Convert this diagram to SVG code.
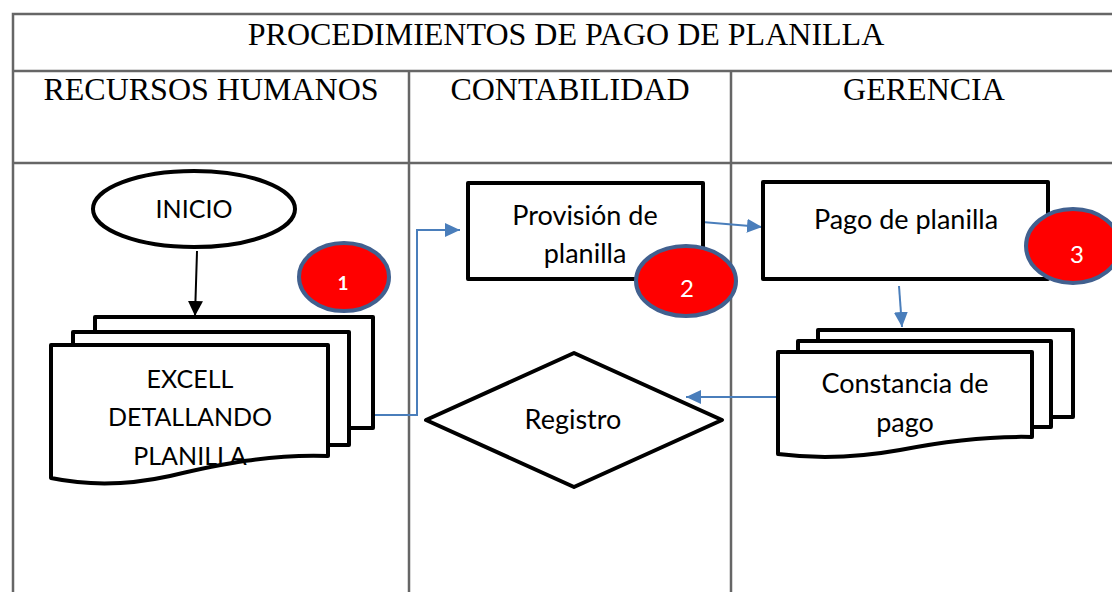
<svg xmlns="http://www.w3.org/2000/svg" width="1112" height="592" viewBox="0 0 1112 592">
<style>
.grid{stroke:#666;stroke-width:2.5;fill:none}
.hdr{font-family:"Liberation Serif",serif;font-size:32px;fill:#000;text-anchor:middle}
.shape{fill:#fff;stroke:#000;stroke-width:4;stroke-linejoin:round}
.lbl{font-family:Lato,"Liberation Sans",sans-serif;font-size:27px;fill:#000;text-anchor:middle}
.lbs{font-size:25px}
.badge{fill:#FF0000;stroke:#41608F;stroke-width:4}
.btxt{font-family:Lato,"Liberation Sans",sans-serif;fill:#fff;text-anchor:middle}
.conn{stroke:#4A7EBB;stroke-width:2;fill:none}
</style>
<defs>
<marker id="ablue" markerWidth="15" markerHeight="14" refX="15" refY="7" orient="auto" markerUnits="userSpaceOnUse" viewBox="0 0 15 14">
<path d="M0,0 L15,7 L0,14 z" fill="#4A7EBB"/>
</marker>
<marker id="ablk" markerWidth="15" markerHeight="15" refX="15" refY="7.5" orient="auto" markerUnits="userSpaceOnUse" viewBox="0 0 15 15">
<path d="M0,0 L15,7.5 L0,15 z" fill="#000"/>
</marker>
</defs>
<rect width="1112" height="592" fill="#fff"/>
<g id="table">
<path class="grid" d="M13,592 V14 H1114 M13,71 H1114 M13,163 H1114 M409,71 V592 M731,71 V592"/>
<text class="hdr" x="566" y="45">PROCEDIMIENTOS DE PAGO DE PLANILLA</text>
<text class="hdr" x="211" y="100">RECURSOS HUMANOS</text>
<text class="hdr" x="570" y="100">CONTABILIDAD</text>
<text class="hdr" x="924" y="100">GERENCIA</text>
</g>
<g id="connectors">
<line x1="197" y1="251" x2="195" y2="316" stroke="#000" stroke-width="2" marker-end="url(#ablk)"/>
<path class="conn" d="M373,415 H417 V230 H460" marker-end="url(#ablue)"/>
<line class="conn" x1="702" y1="222" x2="762" y2="227" marker-end="url(#ablue)"/>
<line class="conn" x1="899" y1="286" x2="902" y2="327" marker-end="url(#ablue)"/>
<line class="conn" x1="778" y1="397" x2="686" y2="397" marker-end="url(#ablue)"/>
</g>
<g id="inicio">
<ellipse class="shape" cx="194" cy="209" rx="101" ry="38"/>
<text class="lbl lbs" x="194" y="218">INICIO</text>
</g>
<g id="excell">
<rect class="shape" x="95" y="317" width="278" height="111"/>
<rect class="shape" x="73" y="332" width="276" height="113"/>
<path class="shape" d="M51,345 H328 V456 C270,454 220,464 170,476 C120,487 80,484 51,478 Z"/>
<text class="lbl lbs" x="190" y="388">EXCELL</text>
<text class="lbl lbs" x="190" y="426">DETALLANDO</text>
<text class="lbl lbs" x="190" y="465">PLANILLA</text>
</g>
<g id="badge1">
<ellipse class="badge" cx="344" cy="277" rx="45" ry="34"/>
<text class="btxt" x="343" y="290" font-size="19" font-weight="bold">1</text>
</g>
<g id="provision">
<rect class="shape" x="468" y="183" width="235" height="96"/>
<text class="lbl" x="585" y="225">Provisión de</text>
<text class="lbl" x="585" y="263">planilla</text>
</g>
<g id="badge2">
<ellipse class="badge" cx="686" cy="281" rx="50" ry="35"/>
<text class="btxt" x="687" y="297" font-size="24">2</text>
</g>
<g id="registro">
<path class="shape" d="M574,353 L722,420 L574,487 L426,420 Z"/>
<text class="lbl" x="573" y="429">Registro</text>
</g>
<g id="pago">
<rect class="shape" x="763" y="182" width="285" height="97"/>
<text class="lbl" x="906" y="229">Pago de planilla</text>
</g>
<g id="badge3">
<ellipse class="badge" cx="1073" cy="246" rx="47" ry="37"/>
<text class="btxt" x="1077" y="263" font-size="24">3</text>
</g>
<g id="constancia">
<rect class="shape" x="818" y="330" width="255" height="87"/>
<rect class="shape" x="798" y="341" width="253" height="86"/>
<path class="shape" d="M778,352 H1032 V437 C990,436 950,440 900,450 C850,459 810,458 778,454 Z"/>
<text class="lbl" x="905" y="393">Constancia de</text>
<text class="lbl" x="905" y="432">pago</text>
</g>
</svg>
